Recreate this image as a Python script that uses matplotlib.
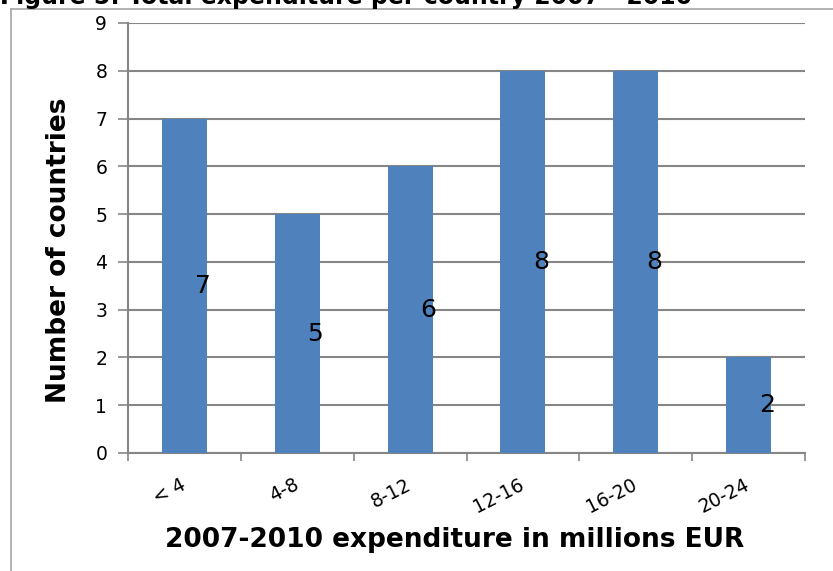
import matplotlib
matplotlib.use("Agg")
import matplotlib.pyplot as plt
from matplotlib.lines import Line2D

categories = ["< 4", "4-8", "8-12", "12-16", "16-20", "20-24"]
counts = [7, 5, 6, 8, 8, 2]
yticks = [0, 1, 2, 3, 4, 5, 6, 7, 8, 9]
title = "Figure 5: Total expenditure per country 2007 - 2010"
xlabel = "2007-2010 expenditure in millions EUR"
ylabel = "Number of countries"

W, H = 833, 571
fig = plt.figure(figsize=(W / 100, H / 100), dpi=100)
plt.rcParams['font.family'] = ['DejaVu Sans']

ax = fig.add_axes([128 / W, 1 - 453 / H, (805 - 128) / W, (453 - 23) / H])

x = list(range(len(categories)))
ax.bar(x, counts, width=0.4, color="#4F81BD", zorder=3)
for xi, v in zip(x, counts):
    ax.text(xi + 0.16, v / 2, str(v), ha="center", va="center",
            fontsize=18, color="black", zorder=4)

ax.set_xlim(-0.5, len(categories) - 0.5)
ax.set_ylim(0, 9)
ax.set_yticks(yticks)
ax.set_yticklabels([str(t) for t in yticks], fontsize=13.5)
ax.yaxis.grid(True, color="#868686", linewidth=1.5, zorder=0)
ax.set_axisbelow(True)

ax.set_xticks([i - 0.5 for i in range(len(categories) + 1)], minor=False)
ax.set_xticklabels([""] * (len(categories) + 1))
ax.set_xticks(x, minor=True)
ax.set_xticklabels(categories, minor=True, fontsize=13.5, rotation=27,
                   ha="right", va="center", rotation_mode="anchor")
ax.tick_params(axis="x", which="minor", length=0, pad=22)
ax.tick_params(axis="x", which="major", length=6, width=1.2, color="#868686")
ax.tick_params(axis="y", length=7, width=1.2, color="#868686", pad=8)

for s in ["top", "right"]:
    ax.spines[s].set_visible(False)
for s in ["left", "bottom"]:
    ax.spines[s].set_color("#868686")
    ax.spines[s].set_linewidth(1.5)

ax.set_xlabel(xlabel, fontsize=19, fontweight="bold")
ax.set_ylabel(ylabel, fontsize=19, fontweight="bold")
ax.xaxis.set_label_coords(0.483, -0.172)
ax.yaxis.set_label_coords(-0.082, 0.472)

# chart area border
fig.add_artist(Line2D([11 / W, 11 / W], [0, 1 - 9 / H], color="#A6A6A6", linewidth=1.2,
                      transform=fig.transFigure))
fig.add_artist(Line2D([11 / W, 1], [1 - 9 / H, 1 - 9 / H], color="#A6A6A6", linewidth=1.2,
                      transform=fig.transFigure))

# title (cut off at top as in reference)
fig.text(0, 1 - 4 / H, title, fontsize=17, fontweight="bold", ha="left", va="baseline")

fig.savefig("out.png", dpi=100)
